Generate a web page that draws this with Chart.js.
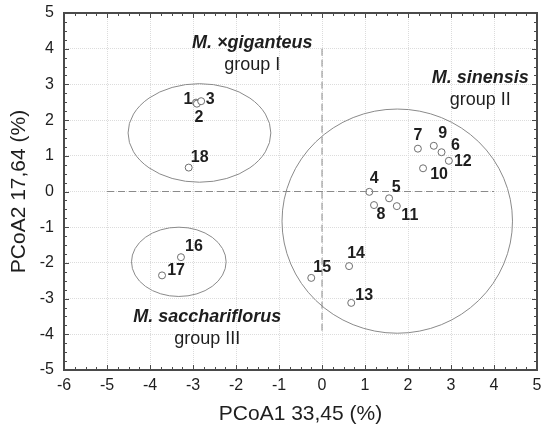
<!DOCTYPE html>
<html>
<head>
<meta charset="utf-8">
<script src="https://cdn.jsdelivr.net/npm/chart.js@4/dist/chart.umd.min.js"></script>
<style>
  body { margin: 0; background: #fff; }
  canvas { display: block; }
</style>
</head>
<body>
<canvas id="myChart" width="542" height="427"></canvas>
<script>
// sample numbers and their PCoA coordinates
const sampleIds = ['1','2','3','4','5','6','7','8','9','10','11','12','13','14','15','16','17','18'];
const pcoa1 = [-2.93, -2.91, -2.81, 1.10, 1.56, 2.78, 2.23, 1.21, 2.60, 2.35, 1.74, 2.95, 0.68, 0.63, -0.25, -3.28, -3.72, -3.10];
const pcoa2 = [2.49, 2.46, 2.53, -0.01, -0.19, 1.10, 1.20, -0.38, 1.28, 0.65, -0.41, 0.86, -3.12, -2.09, -2.42, -1.84, -2.35, 0.67];

// groups: ellipse centre / half axes in axis units
const groupSpecies = ['M. \u00d7giganteus', 'M. sinensis', 'M. sacchariflorus'];
const groupNames = ['group I', 'group II', 'group III'];
const groupCx = [-2.85, 1.75, -3.33];
const groupCy = [1.64, -0.83, -1.97];
const groupRx = [1.66, 2.68, 1.10];
const groupRy = [1.38, 3.14, 0.97];

// axis ranges
const xMin = -6, xMax = 5;
const yMin = -5, yMax = 5;
const xTitle = 'PCoA1 33,45 (%)';
const yTitle = 'PCoA2 17,64 (%)';

// layout only: label offsets in px, group text anchor in axis units
const labelOffsets = [[-8,-3],[2,14],[9,-2],[5,-13],[7,-11],[14,-7],[0,-13],[7,10],[9,-12],[16,6],[13,9],[14,1],[13,-7],[7,-13],[11,-10],[13,-11],[14,-5],[11,-10]];
const groupTextPos = [[-1.62, 4.17], [3.68, 3.19], [-2.67, -3.51]];

const FONT = '"Liberation Sans", Arial, sans-serif';
const TXT = '#1e1e1e';

const points = pcoa1.map((x, i) => ({ x: x, y: pcoa2[i] }));

// ellipses, frame with inward ticks, and all the text labels
const decorPlugin = {
  id: 'decor',
  beforeDatasetsDraw(chart) {
    const ctx = chart.ctx;
    const xs = chart.scales.x, ys = chart.scales.y;
    ctx.save();
    ctx.strokeStyle = '#8a8a8a';
    ctx.lineWidth = 1;
    for (let g = 0; g < groupCx.length; g++) {
      const cx = xs.getPixelForValue(groupCx[g]);
      const cy = ys.getPixelForValue(groupCy[g]);
      const rx = xs.getPixelForValue(groupCx[g] + groupRx[g]) - cx;
      const ry = cy - ys.getPixelForValue(groupCy[g] + groupRy[g]);
      ctx.beginPath();
      ctx.ellipse(cx, cy, rx, ry, 0, 0, Math.PI * 2);
      ctx.stroke();
    }
    ctx.restore();
  },
  afterDatasetsDraw(chart) {
    const ctx = chart.ctx;
    const xs = chart.scales.x, ys = chart.scales.y;
    const a = chart.chartArea;
    ctx.save();

    // frame
    ctx.strokeStyle = '#4a4a4a';
    ctx.lineWidth = 2;
    ctx.strokeRect(a.left, a.top, a.right - a.left, a.bottom - a.top);

    // inward ticks (quarter units)
    ctx.lineWidth = 1;
    ctx.beginPath();
    for (let v = xMin; v <= xMax + 0.001; v += 0.25) {
      const px = Math.round(xs.getPixelForValue(v)) + 0.5;
      const len = Math.abs(v - Math.round(v)) < 0.001 ? 5 : 3;
      ctx.moveTo(px, a.bottom); ctx.lineTo(px, a.bottom - len);
      ctx.moveTo(px, a.top); ctx.lineTo(px, a.top + len);
    }
    for (let v = yMin; v <= yMax + 0.001; v += 0.25) {
      const py = Math.round(ys.getPixelForValue(v)) + 0.5;
      const len = Math.abs(v - Math.round(v)) < 0.001 ? 5 : 3;
      ctx.moveTo(a.left, py); ctx.lineTo(a.left + len, py);
      ctx.moveTo(a.right, py); ctx.lineTo(a.right - len, py);
    }
    ctx.stroke();

    // sample numbers
    const meta = chart.getDatasetMeta(2);
    ctx.fillStyle = TXT;
    ctx.font = 'bold 16px ' + FONT;
    ctx.textAlign = 'center';
    ctx.textBaseline = 'middle';
    meta.data.forEach((el, i) => {
      ctx.fillText(sampleIds[i], el.x + labelOffsets[i][0], el.y + labelOffsets[i][1]);
    });

    // group names
    for (let g = 0; g < groupSpecies.length; g++) {
      const px = xs.getPixelForValue(groupTextPos[g][0]);
      const py = ys.getPixelForValue(groupTextPos[g][1]);
      ctx.font = 'italic bold 18px ' + FONT;
      ctx.fillText(groupSpecies[g], px, py);
      ctx.font = '18px ' + FONT;
      ctx.fillText(groupNames[g], px, py + 22);
    }
    ctx.restore();
  }
};

const ctx = document.getElementById('myChart').getContext('2d');
const myChart = new Chart(ctx, {
  type: 'scatter',
  data: {
    datasets: [
      {
        // vertical dashed reference line
        data: [{ x: 0, y: 4 }, { x: 0, y: -4 }],
        showLine: true,
        borderColor: '#8a8a8a',
        borderWidth: 1,
        borderDash: [7, 4],
        pointRadius: 0,
      },
      {
        // horizontal dashed reference line
        data: [{ x: -5, y: 0 }, { x: 4, y: 0 }],
        showLine: true,
        borderColor: '#8a8a8a',
        borderWidth: 1,
        borderDash: [7, 4],
        pointRadius: 0,
      },
      {
        data: points,
        pointRadius: 3.5,
        pointBorderWidth: 1,
        pointBorderColor: '#6e6e6e',
        pointBackgroundColor: '#ffffff',
      },
    ],
  },
  options: {
    responsive: false,
    animation: false,
    devicePixelRatio: 1,
    layout: { padding: { top: 13, right: 4, left: 0, bottom: 0 } },
    plugins: {
      legend: { display: false },
      tooltip: { enabled: false },
    },
    scales: {
      x: {
        type: 'linear',
        min: xMin,
        max: xMax,
        afterFit: (scale) => { scale.height = 57; scale.paddingLeft = 0; scale.paddingRight = 0; },
        ticks: { stepSize: 1, color: TXT, padding: 6, font: { family: FONT, size: 16 } },
        grid: { color: '#dcdcdc', lineWidth: 1, drawTicks: false },
        border: { display: false, dash: [1, 1] },
        title: { display: true, text: xTitle, color: TXT, font: { family: FONT, size: 21 }, padding: { top: 0, bottom: 0 } },
      },
      y: {
        type: 'linear',
        min: yMin,
        max: yMax,
        afterFit: (scale) => { scale.width = 64; scale.paddingTop = 0; scale.paddingBottom = 0; },
        ticks: { stepSize: 1, color: TXT, padding: 10, font: { family: FONT, size: 16 } },
        grid: { color: '#dcdcdc', lineWidth: 1, drawTicks: false },
        border: { display: false, dash: [1, 1] },
        title: { display: true, text: yTitle, color: TXT, font: { family: FONT, size: 21 }, padding: { top: 7, bottom: 0 } },
      },
    },
  },
  plugins: [decorPlugin],
});
</script>
</body>
</html>
